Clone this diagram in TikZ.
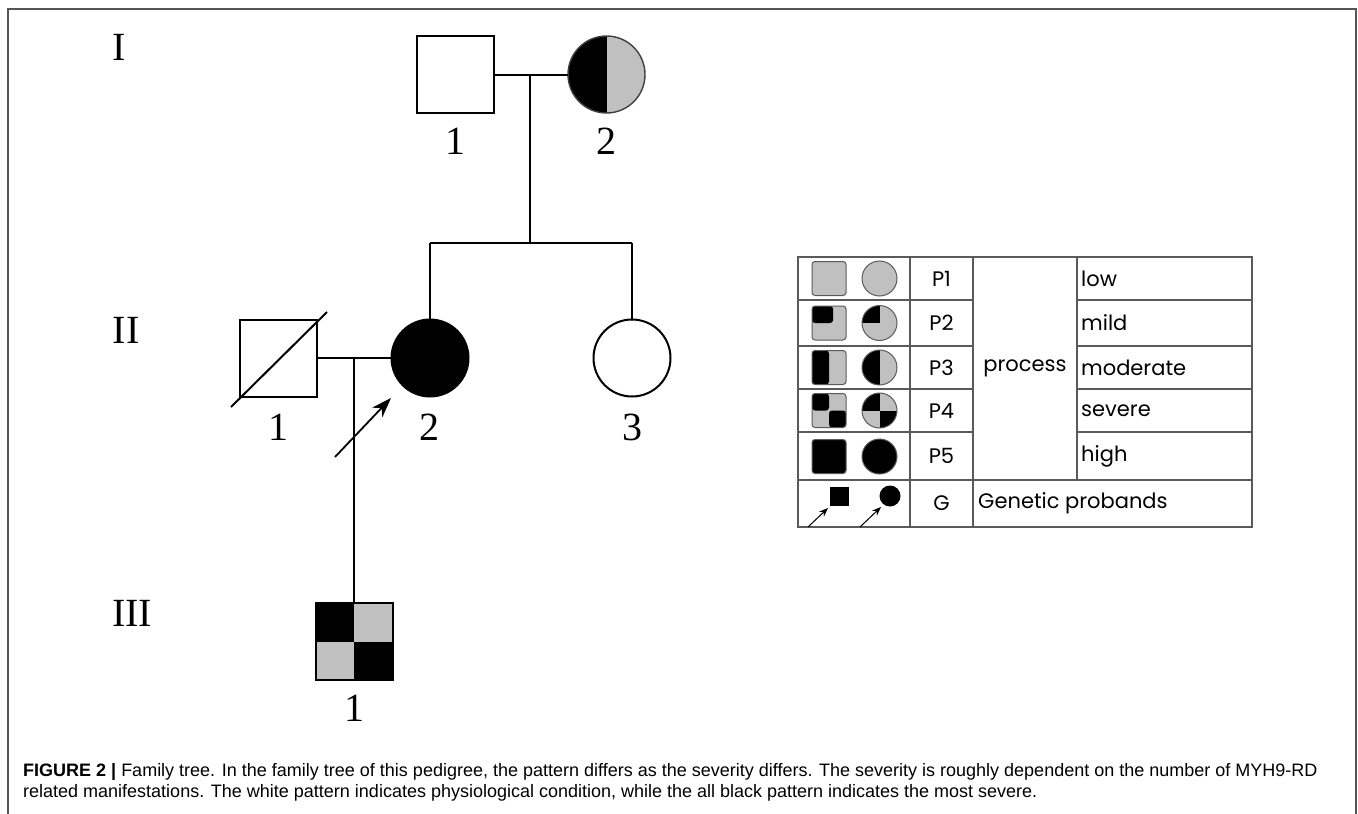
\documentclass[tikz,border=0pt]{standalone}
\usepackage{fontspec}
\setmainfont{Liberation Serif}
\newfontfamily\capfont{Liberation Sans}
\newfontfamily\legfont{Poppins}
\usetikzlibrary{arrows.meta,calc}
\definecolor{greyfill}{HTML}{C0C0C0}
\definecolor{legline}{HTML}{5A5A5A}
\definecolor{framec}{HTML}{555555}
\begin{document}
\begin{tikzpicture}[x=1pt,y=-1pt,
  tie/.style={line width=2pt, black},
  person/.style={draw=black, line width=2pt, minimum size=77pt, inner sep=0pt, outer sep=0pt},
  male/.style={person, rectangle},
  female/.style={person, circle},
  bigtext/.style={font=\fontsize{40}{40}\selectfont, inner sep=0pt},
  leftblack/.style={path picture={
      \fill[greyfill] (path picture bounding box.north west) rectangle (path picture bounding box.south east);
      \fill[black] (path picture bounding box.north west) rectangle (path picture bounding box.south);}},
  checker/.style={path picture={
      \fill[greyfill] (path picture bounding box.north west) rectangle (path picture bounding box.south east);
      \fill[black] (path picture bounding box.north west) rectangle (path picture bounding box.center);
      \fill[black] (path picture bounding box.center) rectangle (path picture bounding box.south east);}},
  cornerblack/.style={path picture={
      \fill[black] (path picture bounding box.north west) rectangle ($(path picture bounding box.west)!0.62!(path picture bounding box.east)$);}},
  quarterblack/.style={path picture={
      \fill[black] (path picture bounding box.north west) rectangle (path picture bounding box.center);}},
  lsq/.style={draw=legline, line width=1pt, rounded corners=3pt, minimum size=34pt, inner sep=0pt, fill=greyfill},
  lci/.style={draw=legline, line width=1pt, circle, minimum size=35pt, inner sep=0pt, fill=greyfill},
  tablerule/.style={draw=legline, line width=1.2pt},
  legtext/.style={font=\legfont\fontsize{21}{21}\selectfont, inner sep=0pt},
  captext/.style={font=\capfont\fontsize{18}{18}\selectfont, inner sep=0pt, anchor=base west},
  probarrow/.style={line width=1.8pt, -{Stealth[length=20pt, width=14pt]}},
  smallarrow/.style={line width=1pt, -{Stealth[length=9pt, width=7pt]}}
]
\useasboundingbox (0,0) rectangle (1358,814);
\fill[white] (0,0) rectangle (1358,814);

% outer frame
\draw[framec, line width=1.5pt] (8,814) -- (8,9) -- (1356,9) -- (1356,814);

% generation labels
\node[bigtext] (gI) at (119,47) {I};
\node[bigtext] (gII) at (126,330) {II};
\node[bigtext] (gIII) at (132,613) {III};

% generation I
\node[male] (I1) at (455,74.5) {};
\node[female, leftblack, draw=black!75, line width=1.4pt] (I2) at (606.5,74.5) {};
\node[bigtext] (nI1) at (455,141) {1};
\node[bigtext] (nI2) at (606,141) {2};
\coordinate (m1) at (530,74.5);
\coordinate (s1) at (530,243);
\draw[tie] (I1.east) -- (I2.west);
\draw[tie] (m1) -- (s1);

% generation II
\node[male] (II1) at (278,358) {};
\node[female, fill=black] (II2) at (430,358) {};
\node[female] (II3) at (632,358) {};
\node[bigtext] (nII1) at (278,427) {1};
\node[bigtext] (nII2) at (429,427) {2};
\node[bigtext] (nII3) at (632,427) {3};
\draw[tie] (II2.north |- s1) -- (II3.north |- s1);
\draw[tie] (II2.north |- s1) -- (II2.north);
\draw[tie] (II3.north |- s1) -- (II3.north);
\coordinate (d1) at (231,407);
\coordinate (d2) at (327,312);
\draw[tie] (d1) -- (d2);
\coordinate (m2) at (354,358);
\draw[tie] (II1.east) -- (II2.west);
\coordinate (pa) at (335,457);
\coordinate (pb) at (391,398);
\draw[probarrow] (pa) -- (pb);

% generation III
\node[male, checker] (III1) at (354,641.5) {};
\node[bigtext] (nIII1) at (354,708) {1};
\draw[tie] (m2) -- (III1.north);

% legend grid
\draw[tablerule] (798,257) rectangle (1252,527);
\draw[tablerule] (798,480) -- (1252,480);
\draw[tablerule] (910,257) -- (910,527);
\draw[tablerule] (973,257) -- (973,527);
\draw[tablerule] (1077,257) -- (1077,480);
\foreach \yy in {300,346,389,432}{
  \draw[tablerule] (798,\yy) -- (973,\yy);
  \draw[tablerule] (1077,\yy) -- (1252,\yy);
}

% legend symbols
\node[lsq] (s1q) at (829,278.5) {};
\node[lci] (s1c) at (879.5,278.5) {};
\node[lsq, cornerblack] (s2q) at (829,323) {};
\node[lci, quarterblack] (s2c) at (879.5,323) {};
\node[lsq, leftblack] (s3q) at (829,367.5) {};
\node[lci, leftblack] (s3c) at (879.5,367.5) {};
\node[lsq, checker] (s4q) at (829,410.5) {};
\node[lci, checker] (s4c) at (879.5,410.5) {};
\node[lsq, fill=black] (s5q) at (829,456.5) {};
\node[lci, fill=black] (s5c) at (879.5,456.5) {};
\node[fill=black, minimum size=19pt, inner sep=0pt] (gq) at (839.5,496) {};
\node[fill=black, circle, minimum size=21pt, inner sep=0pt] (gc) at (890,496) {};
\coordinate (gqa) at (808,527);
\coordinate (gqb) at (828,508);
\coordinate (gca) at (860,527);
\coordinate (gcb) at (881,507);
\draw[smallarrow] (gqa) -- (gqb);
\draw[smallarrow] (gca) -- (gcb);

% legend text
\node[legtext] (p1) at (941.5,278.5) {P1};
\node[legtext] (p2) at (941.5,323) {P2};
\node[legtext] (p3) at (941.5,367.5) {P3};
\node[legtext] (p4) at (941.5,410.5) {P4};
\node[legtext] (p5) at (941.5,456) {P5};
\node[legtext] (pg) at (941.5,503.5) {G};
\node[legtext] (proc) at (1025,368.5) {process};
\node[legtext, anchor=west] (t1) at (1081,278.5) {low};
\node[legtext, anchor=west] (t2) at (1081,323) {mild};
\node[legtext, anchor=west] (t3) at (1081,367.5) {moderate};
\node[legtext, anchor=west] (t4) at (1081,410.5) {severe};
\node[legtext, anchor=west] (t5) at (1081,456) {high};
\node[legtext, anchor=west] (tg) at (978,503.5) {Genetic probands};

% caption
\node[captext] (c1) at (23,776) {\textbf{FIGURE 2 |} Family tree. In the family tree of this pedigree, the pattern differs as the severity differs. The severity is roughly dependent on the number of MYH9-RD};
\node[captext] (c2) at (23,797) {related manifestations. The white pattern indicates physiological condition, while the all black pattern indicates the most severe.};
\end{tikzpicture}
\end{document}
